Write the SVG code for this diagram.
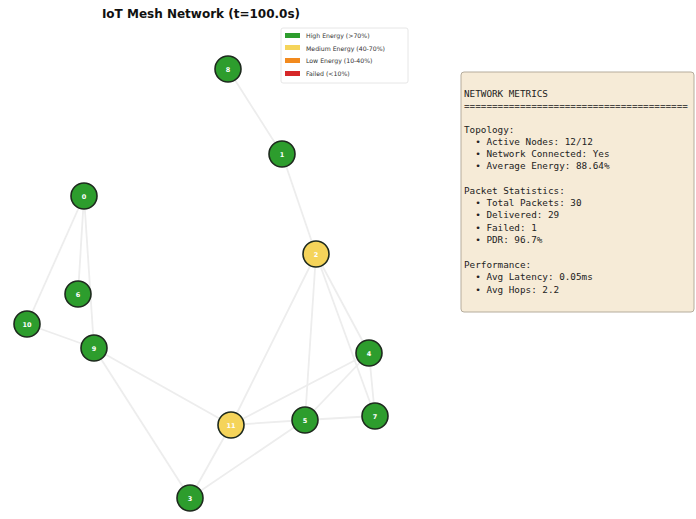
<svg xmlns="http://www.w3.org/2000/svg" width="696" height="519" viewBox="0 0 696 519">
<style>
.e{stroke:#ededed;stroke-width:1.8;fill:none}
.n{stroke:#1e2a1e;stroke-width:1.6}
.g{fill:#2d9d2d}
.y{fill:#f5d45a}
.nl{font-family:"DejaVu Sans",sans-serif;font-size:6.5px;font-weight:bold;fill:#ffffff;text-anchor:middle}
.lg{font-family:"DejaVu Sans",sans-serif;font-size:6.2px;fill:#333}
.m{font-family:"DejaVu Sans Mono",monospace;font-size:9.3px;fill:#222;white-space:pre}
</style>
<rect width="696" height="519" fill="#ffffff"/>
<text x="201" y="18" font-family="DejaVu Sans,sans-serif" font-size="12" font-weight="bold" text-anchor="middle" fill="#111">IoT Mesh Network (t=100.0s)</text>
<g id="connectors">
<line class="e" x1="228" y1="69" x2="282" y2="154"/>
<line class="e" x1="282" y1="154" x2="316" y2="254"/>
<line class="e" x1="316" y1="254" x2="369" y2="353"/>
<line class="e" x1="316" y1="254" x2="375" y2="416"/>
<line class="e" x1="316" y1="254" x2="305" y2="420"/>
<line class="e" x1="316" y1="254" x2="231" y2="425"/>
<line class="e" x1="369" y1="353" x2="375" y2="416"/>
<line class="e" x1="369" y1="353" x2="231" y2="425"/>
<line class="e" x1="369" y1="353" x2="305" y2="420"/>
<line class="e" x1="305" y1="420" x2="375" y2="416"/>
<line class="e" x1="305" y1="420" x2="231" y2="425"/>
<line class="e" x1="305" y1="420" x2="190" y2="498"/>
<line class="e" x1="231" y1="425" x2="190" y2="498"/>
<line class="e" x1="94" y1="348" x2="231" y2="425"/>
<line class="e" x1="94" y1="348" x2="190" y2="498"/>
<line class="e" x1="84" y1="196" x2="78" y2="294"/>
<line class="e" x1="84" y1="196" x2="94" y2="348"/>
<line class="e" x1="84" y1="196" x2="27" y2="324"/>
<line class="e" x1="27" y1="324" x2="94" y2="348"/>
</g>
<g id="node8"><circle class="n g" cx="228" cy="69" r="13"/><text class="nl" x="228" y="71.5">8</text></g>
<g id="node1"><circle class="n g" cx="282" cy="154" r="13"/><text class="nl" x="282" y="156.5">1</text></g>
<g id="node0"><circle class="n g" cx="84" cy="196" r="13"/><text class="nl" x="84" y="198.5">0</text></g>
<g id="node2"><circle class="n y" cx="316" cy="254" r="13"/><text class="nl" x="316" y="256.5">2</text></g>
<g id="node6"><circle class="n g" cx="78" cy="294" r="13"/><text class="nl" x="78" y="296.5">6</text></g>
<g id="node10"><circle class="n g" cx="27" cy="324" r="13"/><text class="nl" x="27" y="326.5">10</text></g>
<g id="node9"><circle class="n g" cx="94" cy="348" r="13"/><text class="nl" x="94" y="350.5">9</text></g>
<g id="node4"><circle class="n g" cx="369" cy="353" r="13"/><text class="nl" x="369" y="355.5">4</text></g>
<g id="node7"><circle class="n g" cx="375" cy="416" r="13"/><text class="nl" x="375" y="418.5">7</text></g>
<g id="node5"><circle class="n g" cx="305" cy="420" r="13"/><text class="nl" x="305" y="422.5">5</text></g>
<g id="node11"><circle class="n y" cx="231" cy="425" r="13"/><text class="nl" x="231" y="427.5">11</text></g>
<g id="node3"><circle class="n g" cx="190" cy="498" r="13"/><text class="nl" x="190" y="500.5">3</text></g>
<g id="legend">
<rect x="281" y="28" width="127" height="55" rx="2" fill="#ffffff" stroke="#e0e0e0" stroke-width="0.8"/>
<rect x="285" y="33" width="15" height="5" fill="#2d9d2d"/>
<rect x="285" y="45" width="15" height="5" fill="#f5d45a"/>
<rect x="285" y="58" width="15" height="5" fill="#f28a1e"/>
<rect x="285" y="71" width="15" height="5" fill="#d62728"/>
<text class="lg" x="306" y="38">High Energy (&gt;70%)</text>
<text class="lg" x="306" y="50.5">Medium Energy (40-70%)</text>
<text class="lg" x="306" y="63">Low Energy (10-40%)</text>
<text class="lg" x="306" y="76">Failed (&lt;10%)</text>
</g>
<g id="metrics">
<rect x="461" y="72" width="233" height="240" rx="3" fill="#f6ebd7" stroke="#b5ac9c" stroke-width="1"/>
<text class="m" x="464" y="97">NETWORK METRICS</text>
<text class="m" x="464" y="109">========================================</text>
<text class="m" x="464" y="133">Topology:</text>
<text class="m" x="464" y="145">  • Active Nodes: 12/12</text>
<text class="m" x="464" y="157">  • Network Connected: Yes</text>
<text class="m" x="464" y="169">  • Average Energy: 88.64%</text>
<text class="m" x="464" y="194">Packet Statistics:</text>
<text class="m" x="464" y="206">  • Total Packets: 30</text>
<text class="m" x="464" y="218">  • Delivered: 29</text>
<text class="m" x="464" y="231">  • Failed: 1</text>
<text class="m" x="464" y="243">  • PDR: 96.7%</text>
<text class="m" x="464" y="268">Performance:</text>
<text class="m" x="464" y="280">  • Avg Latency: 0.05ms</text>
<text class="m" x="464" y="293">  • Avg Hops: 2.2</text>
</g>
</svg>
